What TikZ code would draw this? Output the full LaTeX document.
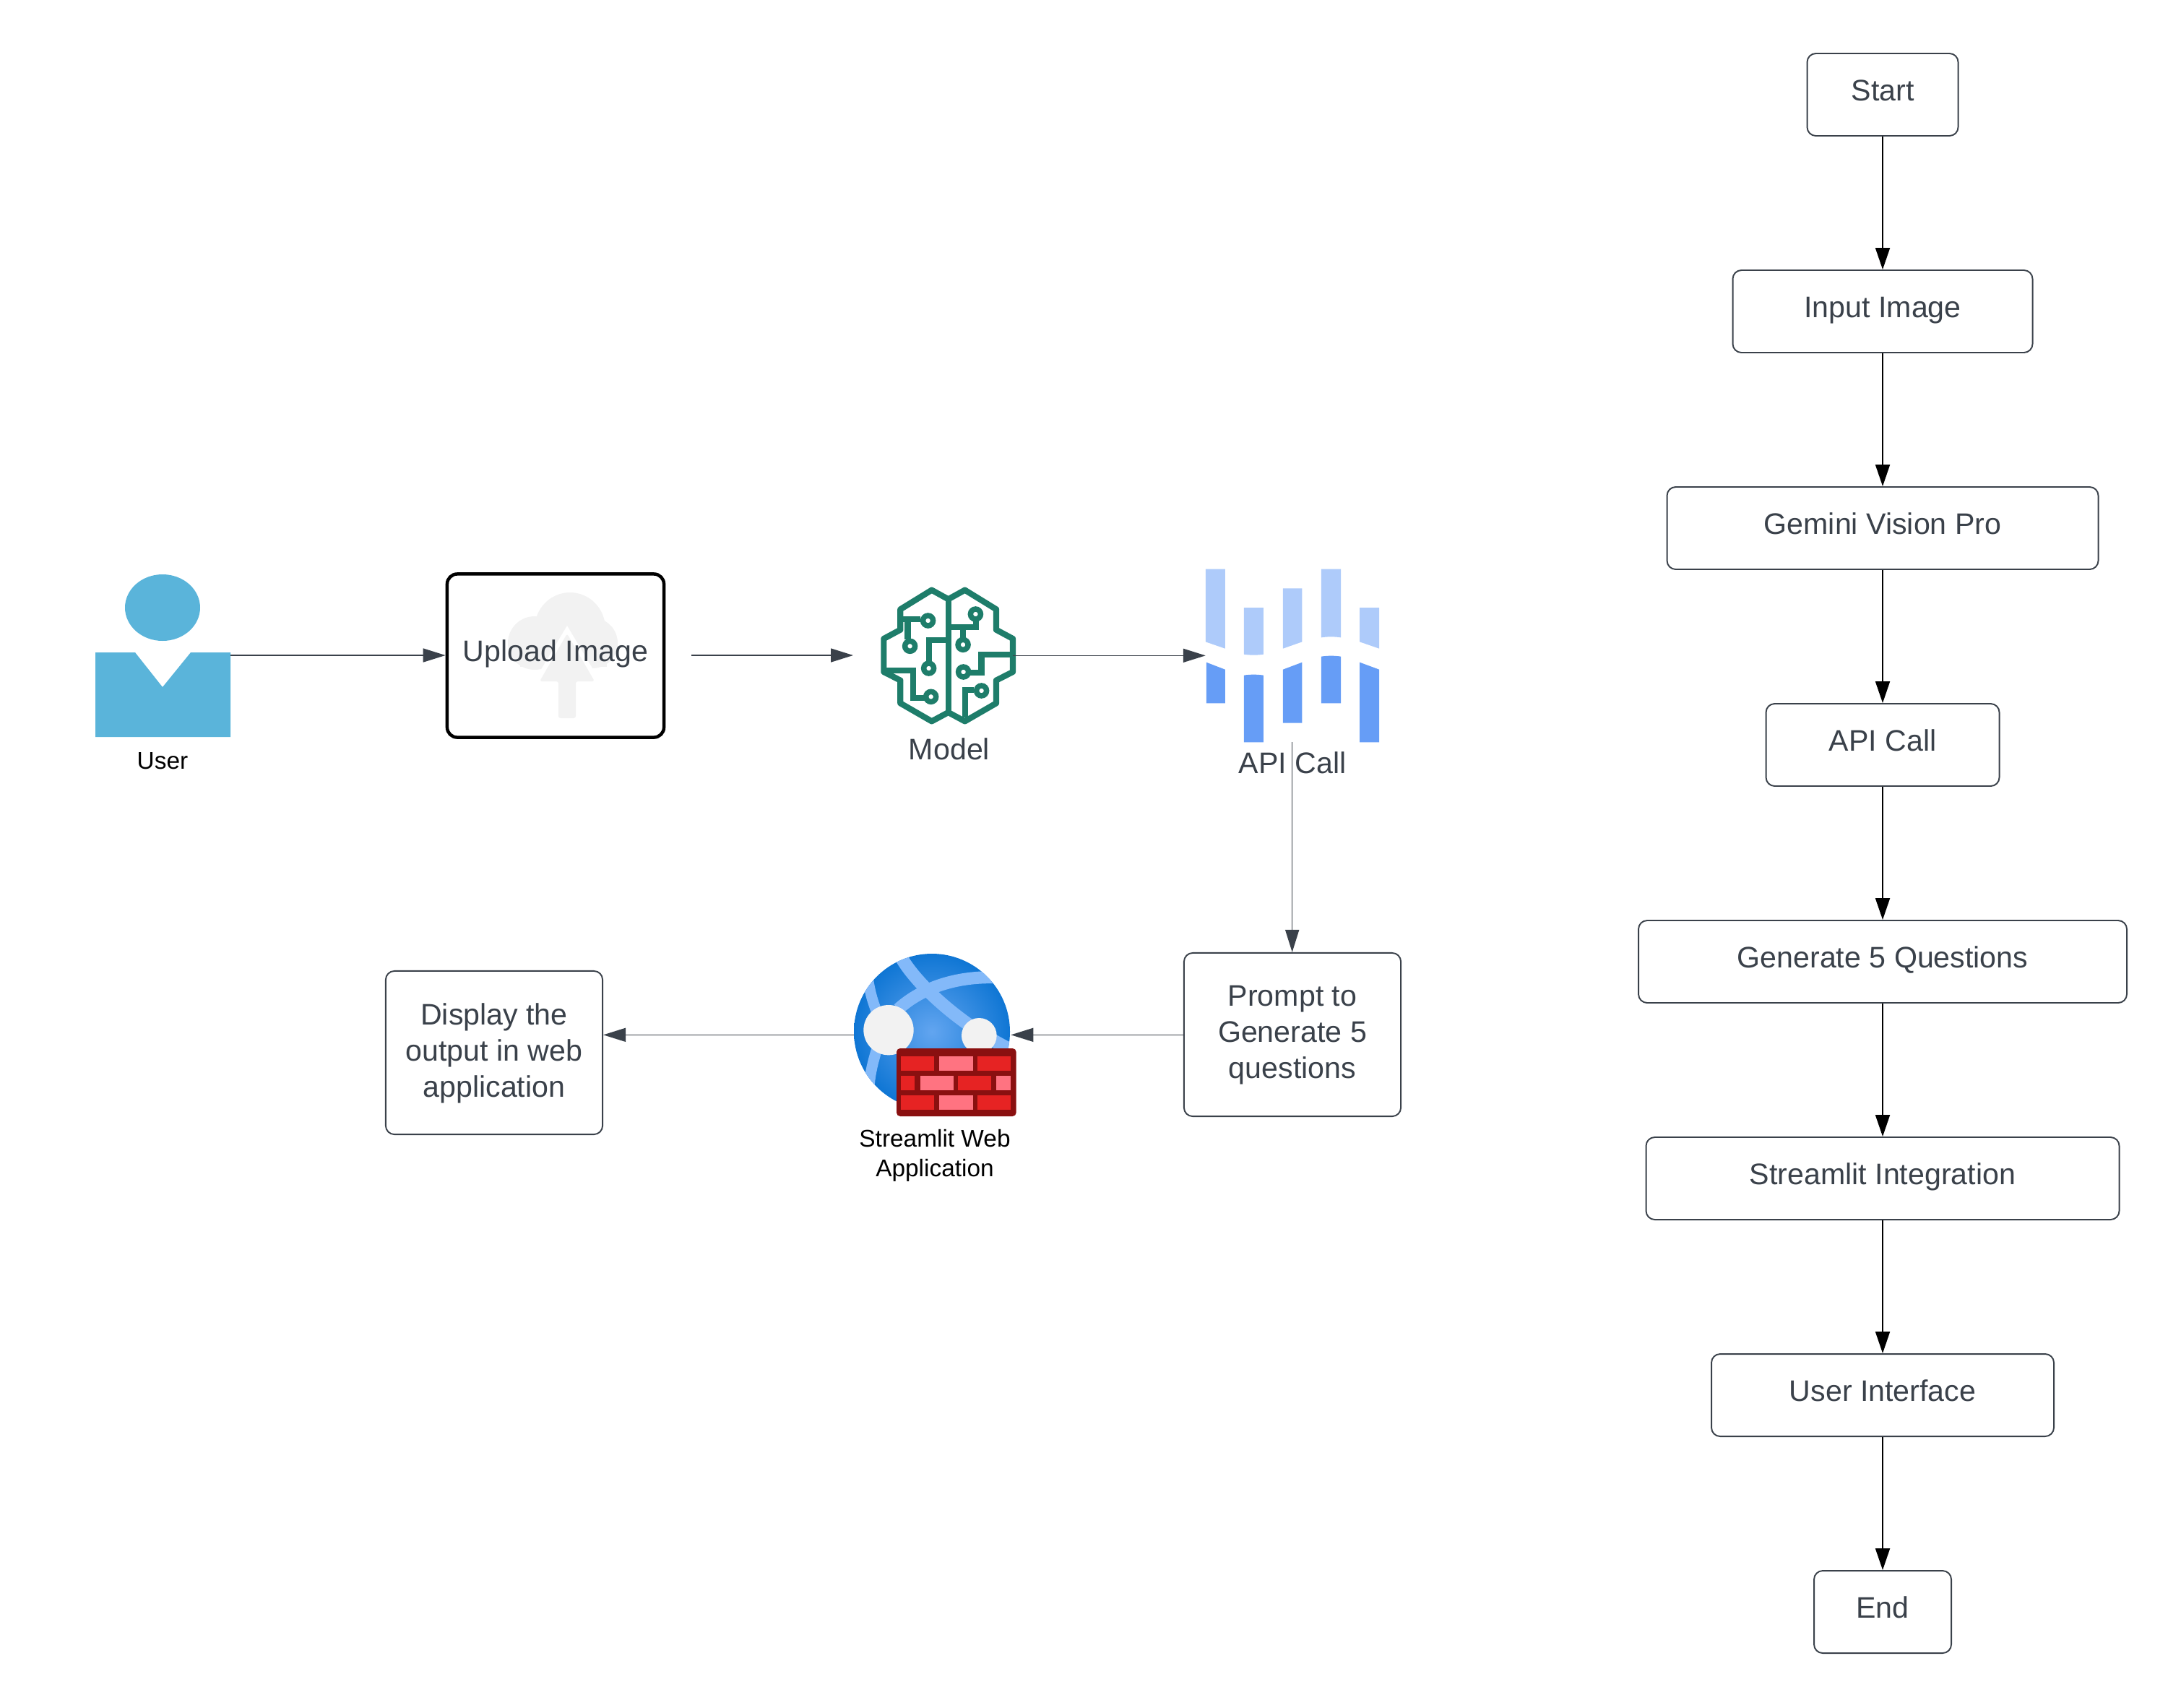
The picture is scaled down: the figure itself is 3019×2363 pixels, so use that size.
\documentclass[tikz,border=0pt]{standalone}
\usepackage{fontspec}
\setmainfont{Liberation Sans}
\usetikzlibrary{arrows.meta,positioning}
\definecolor{ink}{HTML}{3A414A}
\definecolor{usr}{HTML}{5AB4DA}
\definecolor{brain}{HTML}{1E7D6A}
\definecolor{vlight}{HTML}{AECBFA}
\definecolor{vdark}{HTML}{669DF6}
\definecolor{cloudc}{HTML}{F2F2F2}
\definecolor{gband}{HTML}{83B9F9}
\definecolor{gout}{HTML}{0F76D4}
\definecolor{gin}{HTML}{62A5F0}
\definecolor{wall}{HTML}{8A1010}
\definecolor{bred}{HTML}{E62323}
\definecolor{bpink}{HTML}{FF7381}
\tikzset{
 x=0.01cm,y=-0.01cm,
 txt/.style={font=\fontsize{11.7pt}{14.2pt}\selectfont,text=ink,align=center,inner sep=0pt},
 lbl/.style={font=\fontsize{9.5pt}{11.6pt}\selectfont,text=black,align=center,inner sep=0pt},
 flowbox/.style={draw=ink,line width=0.55pt,rounded corners=0.12cm,fill=white,inner sep=0pt},
 flowarr/.style={draw=black,line width=0.55pt,-{Triangle[length=0.3cm,width=0.2cm]}},
 thinarr/.style={draw=ink,line width=0.45pt,-{Triangle[length=0.31cm,width=0.19cm]}},
 circ/.style={circle,draw=brain,fill=white,line width=0.075cm,minimum size=0.14cm,inner sep=0pt},
 wire/.style={draw=brain,line width=0.082cm,line join=miter},
}
\newcommand{\fbx}[6]{\node[flowbox,minimum width=#3*0.01cm,minimum height=#4*0.01cm] (#1) at (#2,#5) {};
 \node[txt,anchor=base] at (#2,#5+8) {#6};}
\begin{document}
\begin{tikzpicture}
\useasboundingbox (0,0) rectangle (3019,2363);
% flowchart
\fbx{fa}{2606}{209}{114}{131}{Start}
\fbx{fb}{2606}{415}{114}{431}{Input Image}
\fbx{fc}{2606}{597}{114}{731}{Gemini Vision Pro}
\fbx{fd}{2606}{323}{114}{1031}{API Call}
\fbx{fe}{2606}{676}{114}{1331}{Generate 5 Questions}
\fbx{ff}{2606}{655}{114}{1631}{Streamlit Integration}
\fbx{fg}{2606}{474}{114}{1931}{User Interface}
\fbx{fh}{2606}{190}{114}{2231}{End}
\foreach \a/\b in {fa/fb,fb/fc,fc/fd,fd/fe,fe/ff,ff/fg,fg/fh}{\draw[flowarr] (\a) -- (\b);}
% user
\fill[usr] (225,841) ellipse [x radius=52,y radius=46];
\fill[usr] (132,903) -- (187,903) -- (225,951) -- (264,903) -- (319,903) -- (319,1020) -- (132,1020) -- cycle;
\node[lbl] (userl) at (225,1053) {User};
\coordinate (uo) at (319,907);
% upload
\node[draw=black,line width=0.045cm,rounded corners=0.14cm,minimum width=3.0cm,minimum height=2.26cm,inner sep=0pt] (up) at (769,907.5) {};
\fill[cloudc] (789,870) ellipse [x radius=49,y radius=50];
\fill[cloudc] (740,890) circle (37);
\fill[cloudc] (820,890) circle (35);
\fill[cloudc] (720,923) rectangle (840,895);
\fill[white] (785,866) -- (738,945) -- (832,945) -- cycle;
\fill[cloudc,rounded corners=0.03cm] (785,877) -- (823,943) -- (797,943) -- (797,994) -- (773,994) -- (773,943) -- (747,943) -- cycle;
\node[txt,anchor=base] (upt) at (769,915) {Upload Image};
\draw[thinarr] (uo) -- (up.west |- uo);
\coordinate (m0) at (957,907);
\coordinate (m1) at (1181,907);
\draw[thinarr] (m0) -- (m1);
% brain
\begin{scope}[shift={(1180,760)},xscale=0.5102,yscale=0.3333]
\draw[wire,line join=round] (260,208) -- (305,170) -- (390,250) -- (390,335) -- (435,372) -- (435,510) -- (390,545) -- (390,640) -- (305,715) -- (260,678) -- (215,715) -- (130,640) -- (130,545) -- (85,510) -- (85,372) -- (130,335) -- (130,250) -- (215,170) -- cycle;
\draw[wire] (260,208) -- (260,678);
\draw[wire] (130,292) -- (185,292);
\draw[wire] (150,300) -- (150,375);
\draw[wire] (260,378) -- (208,378) -- (208,465);
\draw[wire] (85,505) -- (165,505) -- (165,618) -- (195,618);
\draw[wire] (260,325) -- (335,325) -- (335,295);
\draw[wire] (300,330) -- (300,370);
\draw[wire] (435,437) -- (350,437) -- (350,512) -- (320,512);
\draw[wire] (305,700) -- (305,585) -- (330,585);
\foreach \p/\q in {205/297,156/403,207/495,213/613,334/270,300/397,301/510,350/588}{\node[circ] at (\p,\q) {};}
\coordinate (bo) at (435,442);
\coordinate (vi) at (958,442);
% vertex
\fill[vlight] (958,83) -- (1011,83) -- (1011,413) -- (958,385) -- cycle;
\fill[vlight] (1062,243) -- (1115,243) -- (1115,437) .. controls (1098,441) and (1079,441) .. (1062,437) -- cycle;
\fill[vlight] (1168,163) -- (1220,163) -- (1220,385) -- (1168,413) -- cycle;
\fill[vlight] (1272,83) -- (1325,83) -- (1325,367) .. controls (1308,363) and (1289,363) .. (1272,367) -- cycle;
\fill[vlight] (1376,243) -- (1429,243) -- (1429,413) -- (1376,385) -- cycle;
\fill[vdark] (960,470) -- (1011,500) -- (1011,640) -- (960,640) -- cycle;
\fill[vdark] (1062,524) .. controls (1079,520) and (1098,520) .. (1115,524) -- (1115,802) -- (1062,802) -- cycle;
\fill[vdark] (1168,500) -- (1220,470) -- (1220,722) -- (1168,722) -- cycle;
\fill[vdark] (1272,446) .. controls (1289,442) and (1308,442) .. (1325,446) -- (1325,640) -- (1272,640) -- cycle;
\fill[vdark] (1376,470) -- (1429,500) -- (1429,802) -- (1376,802) -- cycle;
\coordinate (ao) at (1193,802);
\end{scope}
\draw[thinarr] (bo) -- (vi);
\node[txt,anchor=base] (mt) at (1314,1051) {Model};
\node[txt,anchor=base] (at) at (1789,1070) {API Call};
% prompt
\node[flowbox,minimum width=3.0cm,minimum height=2.26cm] (pr) at (1789,1432) {};
\node[txt] at (1789,1433) {Prompt to\\Generate 5\\questions};
\draw[thinarr] (ao) -- (ao |- pr.north);
% display
\node[flowbox,minimum width=3.0cm,minimum height=2.26cm] (ds) at (684,1457) {};
\node[txt] at (684,1458) {Display the\\output in web\\application};
% globe
\begin{scope}[shift={(1150,1300)},xscale=0.3333,yscale=0.3333]
\coordinate (gc) at (420,385);
\coordinate (gl) at (95,397);
\coordinate (gr) at (748,397);
\end{scope}
\begin{scope}
\clip (1290,1428) circle (108);
\shade[inner color=gin,outer color=gout] (1290,1428) circle (108);
\begin{scope}[shift={(1150,1300)},xscale=0.3333,yscale=0.3333]
\draw[gband,line width=0.18cm] (295,80) .. controls (360,190) and (540,360) .. (760,465);
\draw[gband,line width=0.17cm] (280,290) .. controls (380,200) and (520,155) .. (680,158);
\draw[gband,line width=0.15cm] (155,170) .. controls (165,230) and (175,260) .. (190,300);
\draw[gband,line width=0.15cm] (190,460) .. controls (175,510) and (165,550) .. (160,600);
\end{scope}
\end{scope}
\begin{scope}[shift={(1150,1300)},xscale=0.3333,yscale=0.3333]
\fill[cloudc] (240,377) ellipse [x radius=104,y radius=104];
\fill[cloudc] (616,400) ellipse [x radius=73,y radius=73];
\fill[wall,rounded corners=0.05cm] (273,453) rectangle (770,735);
\foreach \a/\b/\c/\d/\e in {290/430/485/546/bred,451/590/485/546/bpink,608/747/485/546/bred,290/349/566/627/bred,371/510/566/627/bpink,528/667/566/627/bred,688/747/566/627/bpink,290/430/647/708/bred,451/590/647/708/bpink,608/747/647/708/bred}{\fill[\e] (\a,\c) rectangle (\b,\d);}
\end{scope}
\node[lbl] (gt) at (1294,1599) {Streamlit Web\\Application};
\draw[thinarr] (pr.west |- gr) -- (gr);
\draw[thinarr] (gl) -- (ds.east |- gl);
\end{tikzpicture}
\end{document}
